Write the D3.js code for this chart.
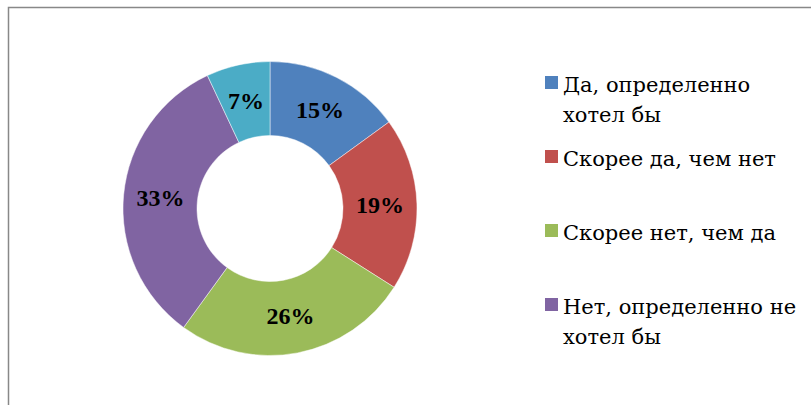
<!DOCTYPE html>
<html>
    <head>
        <meta charset="utf-8">
        <style>
        body { margin: 0; background: #fff; }
        svg text {
            font-family: "Liberation Serif", serif;
            font-size: 24px;
        }
        .arc text {
            font-weight: bold;
            text-anchor: middle;
            fill: #000;
        }
        .legend text {
            font-family: "DejaVu Serif";
            font-size: 21px;
            fill: #000;
        }
        </style>
        <script src="https://d3js.org/d3.v7.min.js"></script>
    </head>
    <body>
        <svg width="811" height="405"></svg>
     <script>
        // data
        var categories = ["Да, определенно хотел бы", "Скорее да, чем нет", "Скорее нет, чем да", "Нет, определенно не хотел бы", "Затрудняюсь ответить"];
        var values = [15, 19, 26, 33, 7];
        var colors = ["#4F81BD", "#C0504D", "#9BBB59", "#8064A2", "#4BACC6"];
        // legend only shows first four, wrapped as in the original
        var legendLines = [["Да, определенно", "хотел бы"], ["Скорее да, чем нет"], ["Скорее нет, чем да"], ["Нет, определенно не", "хотел бы"]];

        var svg = d3.select("svg");

        // chart frame (runs off the right and bottom edges)
        svg.append("rect")
           .attr("x", 8.5).attr("y", 7.5)
           .attr("width", 820).attr("height", 420)
           .attr("fill", "none")
           .attr("stroke", "#888")
           .attr("stroke-width", 1.5);

        var cx = 270, cy = 208.5;
        var outer = 147, inner = 73;

        var color = d3.scaleOrdinal().domain(categories).range(colors);

        var pie = d3.pie().sort(null).value(function(d) { return d.value; });

        var path = d3.arc().outerRadius(outer).innerRadius(inner);

        var data = categories.map(function(c, i) { return {name: c, value: values[i]}; });

        var g = svg.append("g")
                   .attr("transform", "translate(" + cx + "," + cy + ")");

        var arc = g.selectAll(".arc")
                   .data(pie(data))
                   .enter().append("g")
                   .attr("class", "arc");

        arc.append("path")
           .attr("d", path)
           .attr("fill", function(d) { return color(d.data.name); })
           .attr("stroke", "#fff")
           .attr("stroke-opacity", 0.6)
           .attr("stroke-width", 0.8);

        arc.append("text")
           .attr("transform", function(d) { return "translate(" + path.centroid(d) + ")"; })
           .attr("dy", "0.33em")
           .text(function(d) { return d.data.value + "%"; });

        // legend
        var legendY = d3.scalePoint().domain(d3.range(legendLines.length)).range([76, 298]);

        var legend = svg.selectAll(".legend")
                        .data(legendLines)
                        .enter().append("g")
                        .attr("class", "legend")
                        .attr("transform", function(d, i) { return "translate(545," + legendY(i) + ")"; });

        legend.append("rect")
              .attr("width", 13).attr("height", 13)
              .attr("fill", function(d, i) { return colors[i]; });

        legend.append("text")
              .attr("x", 18)
              .attr("y", 16)
              .selectAll("tspan")
              .data(function(d) { return d; })
              .enter().append("tspan")
              .attr("x", 18)
              .attr("dy", function(d, j) { return j ? 30 : 0; })
              .text(function(d) { return d; });
     </script>
    </body>
</html>
